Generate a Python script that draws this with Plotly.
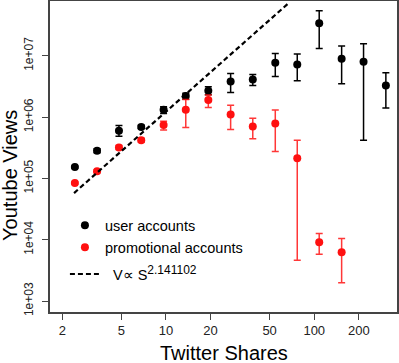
import plotly.graph_objects as go

# Twitter shares (bin centres)
shares = [2.43, 3.43, 4.82, 6.81, 9.64, 13.6, 19.3, 27.3, 38.5, 54.6, 76.8, 108, 153, 215, 304]

# user accounts: median views and error bar bounds
user_views = [1.53e5, 2.82e5, 5.97e5, 6.93e5, 1.32e6, 2.21e6, 2.70e6, 3.82e6, 4.12e6,
              7.69e6, 7.22e6, 3.40e7, 8.94e6, 7.98e6, 3.29e6]
user_low = [1.48e5, 2.62e5, 4.87e5, 6.50e5, 1.15e6, 1.95e6, 2.32e6, 2.53e6, 3.29e6,
            4.61e6, 3.92e6, 1.31e7, 3.51e6, 4.20e5, 1.41e6]
user_high = [1.58e5, 3.05e5, 7.28e5, 7.40e5, 1.48e6, 2.44e6, 3.13e6, 5.15e6, 4.97e6,
             1.09e7, 1.07e7, 5.45e7, 1.44e7, 1.57e7, 5.29e6]

# promotional accounts
promo_shares = shares[:13]
promo_views = [8.39e4, 1.31e5, 3.19e5, 4.20e5, 7.47e5, 1.32e6, 1.90e6, 1.10e6, 7.01e5,
               7.84e5, 2.14e5, 9.11e3, 6.27e3]
promo_low = [8.1e4, 1.24e5, 2.95e5, 3.90e5, 6.19e5, 6.75e5, 1.44e6, 6.26e5, 4.42e5,
             2.75e5, 4.64e3, 5.81e3, 1.99e3]
promo_high = [8.7e4, 1.38e5, 3.45e5, 4.50e5, 8.55e5, 1.93e6, 2.30e6, 1.56e6, 9.55e5,
              1.31e6, 4.20e5, 1.26e4, 1.05e4]

# power-law fit V ~ S^2.141102
fit_shares = [2.4, 68]
fit_views = [5.77e4, 7.43e7]

x_ticks = [2, 5, 10, 20, 50, 100, 200]
y_ticks = [1e3, 1e4, 1e5, 1e6, 1e7]
y_ticklabels = ['1e+03', '1e+04', '1e+05', '1e+06', '1e+07']


def err(vals, low, high):
    plus = [h - v for v, h in zip(vals, high)]
    minus = [v - l for v, l in zip(vals, low)]
    return plus, minus


u_plus, u_minus = err(user_views, user_low, user_high)
p_plus, p_minus = err(promo_views, promo_low, promo_high)

fig = go.Figure()

fig.add_trace(go.Scatter(
    x=shares, y=user_views, mode='markers', name='user accounts',
    marker=dict(color='black', size=8),
    error_y=dict(type='data', array=u_plus, arrayminus=u_minus, symmetric=False,
                 color='black', thickness=1.5, width=3.5),
    legendgroup='a'
))
fig.add_trace(go.Scatter(
    x=promo_shares, y=promo_views, mode='markers', name='promotional accounts',
    marker=dict(color='#ff1010', size=8),
    error_y=dict(type='data', array=p_plus, arrayminus=p_minus, symmetric=False,
                 color='rgba(255,20,20,0.85)', thickness=1.5, width=3.5),
    legendgroup='a'
))
fig.add_trace(go.Scatter(
    x=fit_shares, y=fit_views, mode='lines',
    name='  V\u221d S<sup><span style="font-size:12px">2.141102</span></sup>',
    line=dict(color='black', width=2.2, dash='5px,3px'),
    legendgroup='b'
))

fig.update_layout(
    width=399, height=363,
    margin=dict(l=50, r=2, t=1, b=51),
    plot_bgcolor='white', paper_bgcolor='white',
    font=dict(family='Liberation Sans, Arial, sans-serif', color='black'),
    showlegend=True,
    legend=dict(x=0.043, y=0.33, xanchor='left', yanchor='top',
                bgcolor='rgba(0,0,0,0)', font=dict(size=14.5),
                traceorder='grouped', tracegroupgap=5, itemwidth=30),
    annotations=[
        dict(text='Twitter Shares', x=0.5, y=-0.175, xref='paper', yref='paper',
             xanchor='center', yanchor='bottom', showarrow=False, font=dict(size=20)),
        dict(text='Youtube Views', x=-0.116, y=0.44, xref='paper', yref='paper',
             xanchor='center', yanchor='middle', textangle=-90, showarrow=False,
             font=dict(size=20)),
    ],
)

fig.update_xaxes(
    type='log', range=[0.218, 2.558], automargin=False,
    tickvals=x_ticks, ticktext=[str(t) for t in x_ticks],
    ticks='outside', ticklen=6, tickcolor='#444', ticklabelstandoff=0,
    showline=True, linecolor='#444', linewidth=1.5, mirror=True,
    showgrid=False, zeroline=False, tickfont=dict(size=13, color='#222'),
)
fig.update_yaxes(
    type='log', range=[2.821, 7.894], automargin=False,
    tickvals=y_ticks, ticktext=y_ticklabels, tickangle=-90,
    ticks='outside', ticklen=6, tickcolor='#444', ticklabelstandoff=4,
    showline=True, linecolor='#444', linewidth=1.5, mirror=True,
    showgrid=False, zeroline=False, tickfont=dict(size=12, color='#222'),
)

# the page body has a default 8px margin, drop it so the figure sits at the corner
fig.write_html("out.html", config={'displayModeBar': False},
               post_script="document.body.style.margin='0';")
